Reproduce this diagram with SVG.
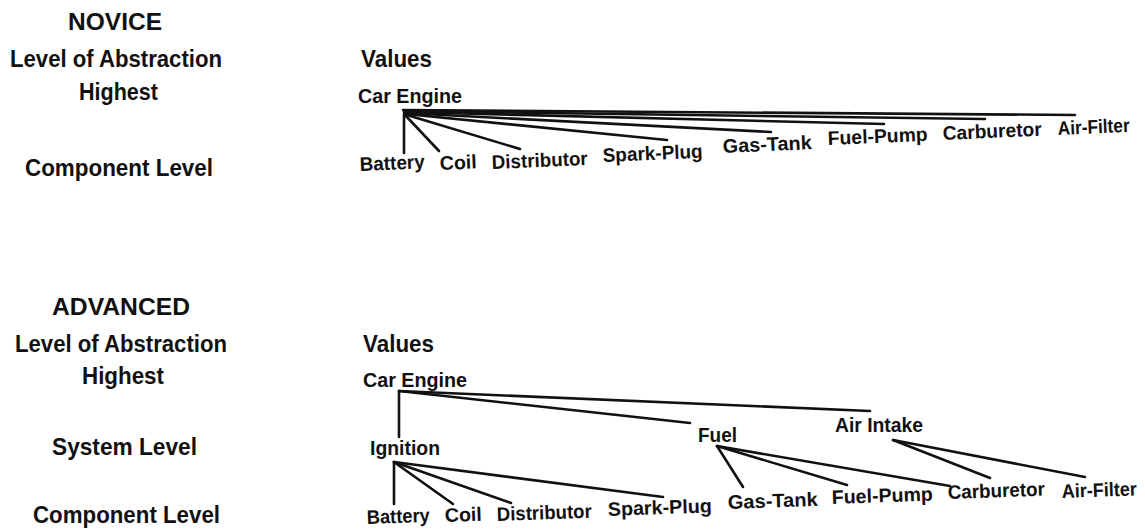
<svg xmlns="http://www.w3.org/2000/svg" width="1145" height="530" viewBox="0 0 1145 530">
<style>
text{font-family:"Liberation Sans",Arial,Helvetica,sans-serif;font-weight:bold;fill:#111}
.lv{font-size:23px}
.nd{font-size:19.5px}
.cn line{stroke:#111;stroke-width:2.6;stroke-linecap:round}
</style>
<rect width="1145" height="530" fill="#fff"/>
<g id="novice-levels">
<text class="lv" x="68" y="30" textLength="94" lengthAdjust="spacingAndGlyphs">NOVICE</text>
<text class="lv" x="10" y="67" textLength="212" lengthAdjust="spacingAndGlyphs">Level of Abstraction</text>
<text class="lv" x="79" y="100" textLength="79" lengthAdjust="spacingAndGlyphs">Highest</text>
<text class="lv" x="25" y="176" textLength="188" lengthAdjust="spacingAndGlyphs">Component Level</text>
</g>
<g id="novice-values"><text class="lv" x="361" y="67" textLength="71" lengthAdjust="spacingAndGlyphs">Values</text></g>
<g id="n-car-engine"><text class="nd" x="358" y="103" textLength="104" lengthAdjust="spacingAndGlyphs">Car Engine</text></g>
<g id="n-battery"><text class="nd" x="360" y="171" textLength="65" lengthAdjust="spacingAndGlyphs" transform="rotate(-2.5 360 171)">Battery</text></g>
<g id="n-coil"><text class="nd" x="440" y="170" textLength="37" lengthAdjust="spacingAndGlyphs" transform="rotate(-2.5 440 170)">Coil</text></g>
<g id="n-distributor"><text class="nd" x="492" y="169" textLength="96" lengthAdjust="spacingAndGlyphs" transform="rotate(-2.5 492 169)">Distributor</text></g>
<g id="n-spark-plug"><text class="nd" x="603" y="162" textLength="100" lengthAdjust="spacingAndGlyphs" transform="rotate(-2.5 603 162)">Spark-Plug</text></g>
<g id="n-gas-tank"><text class="nd" x="723" y="153" textLength="89" lengthAdjust="spacingAndGlyphs" transform="rotate(-2.5 723 153)">Gas-Tank</text></g>
<g id="n-fuel-pump"><text class="nd" x="828" y="145" textLength="100" lengthAdjust="spacingAndGlyphs" transform="rotate(-2.5 828 145)">Fuel-Pump</text></g>
<g id="n-carburetor"><text class="nd" x="943" y="140" textLength="99" lengthAdjust="spacingAndGlyphs" transform="rotate(-2.5 943 140)">Carburetor</text></g>
<g id="n-air-filter"><text class="nd" x="1058" y="135" textLength="72" lengthAdjust="spacingAndGlyphs" transform="rotate(-2.5 1058 135)">Air-Filter</text></g>

<g id="advanced-levels">
<text class="lv" x="52" y="315" textLength="138" lengthAdjust="spacingAndGlyphs">ADVANCED</text>
<text class="lv" x="15" y="352" textLength="212" lengthAdjust="spacingAndGlyphs">Level of Abstraction</text>
<text class="lv" x="82" y="384" textLength="82" lengthAdjust="spacingAndGlyphs">Highest</text>
<text class="lv" x="52" y="455" textLength="145" lengthAdjust="spacingAndGlyphs">System Level</text>
<text class="lv" x="33" y="523" textLength="187" lengthAdjust="spacingAndGlyphs">Component Level</text>
</g>
<g id="advanced-values"><text class="lv" x="363" y="352" textLength="71" lengthAdjust="spacingAndGlyphs">Values</text></g>
<g id="a-car-engine"><text class="nd" x="363" y="387" textLength="104" lengthAdjust="spacingAndGlyphs">Car Engine</text></g>
<g id="a-ignition"><text class="nd" x="370" y="455" textLength="70" lengthAdjust="spacingAndGlyphs">Ignition</text></g>
<g id="a-fuel"><text class="nd" x="698" y="442" textLength="39" lengthAdjust="spacingAndGlyphs">Fuel</text></g>
<g id="a-air-intake"><text class="nd" x="835" y="432" textLength="88" lengthAdjust="spacingAndGlyphs">Air Intake</text></g>
<g id="a-battery"><text class="nd" x="367" y="524" textLength="63" lengthAdjust="spacingAndGlyphs" transform="rotate(-2 367 524)">Battery</text></g>
<g id="a-coil"><text class="nd" x="445" y="522" textLength="37" lengthAdjust="spacingAndGlyphs" transform="rotate(-2 445 522)">Coil</text></g>
<g id="a-distributor"><text class="nd" x="497" y="521" textLength="95" lengthAdjust="spacingAndGlyphs" transform="rotate(-2 497 521)">Distributor</text></g>
<g id="a-spark-plug"><text class="nd" x="608" y="516" textLength="104" lengthAdjust="spacingAndGlyphs" transform="rotate(-2 608 516)">Spark-Plug</text></g>
<g id="a-gas-tank"><text class="nd" x="728" y="509" textLength="90" lengthAdjust="spacingAndGlyphs" transform="rotate(-2 728 509)">Gas-Tank</text></g>
<g id="a-fuel-pump"><text class="nd" x="832" y="504" textLength="101" lengthAdjust="spacingAndGlyphs" transform="rotate(-2 832 504)">Fuel-Pump</text></g>
<g id="a-carburetor"><text class="nd" x="948" y="499" textLength="97" lengthAdjust="spacingAndGlyphs" transform="rotate(-2 948 499)">Carburetor</text></g>
<g id="a-air-filter"><text class="nd" x="1062" y="498" textLength="75" lengthAdjust="spacingAndGlyphs" transform="rotate(-2 1062 498)">Air-Filter</text></g>

<g id="connectors" class="cn">
<line x1="404" y1="114" x2="404" y2="153"/>
<line x1="406" y1="116" x2="439" y2="151"/>
<line x1="407" y1="115" x2="520" y2="149"/>
<line x1="406" y1="114" x2="667" y2="140"/>
<line x1="405" y1="113" x2="771" y2="132"/>
<line x1="404" y1="112" x2="884" y2="124"/>
<line x1="404" y1="111" x2="985" y2="119"/>
<line x1="403" y1="110" x2="1075" y2="115"/>
<line x1="399" y1="391" x2="399" y2="437"/>
<line x1="399" y1="391" x2="690" y2="423"/>
<line x1="399" y1="391" x2="870" y2="411"/>
<line x1="394" y1="462" x2="394" y2="504"/>
<line x1="394" y1="462" x2="453" y2="504"/>
<line x1="394" y1="462" x2="511" y2="503"/>
<line x1="394" y1="462" x2="663" y2="497"/>
<line x1="717" y1="446" x2="743" y2="487"/>
<line x1="717" y1="446" x2="847" y2="485"/>
<line x1="717" y1="446" x2="950" y2="486"/>
<line x1="893" y1="440" x2="990" y2="478"/>
<line x1="893" y1="440" x2="1085" y2="477"/>
</g>
</svg>
